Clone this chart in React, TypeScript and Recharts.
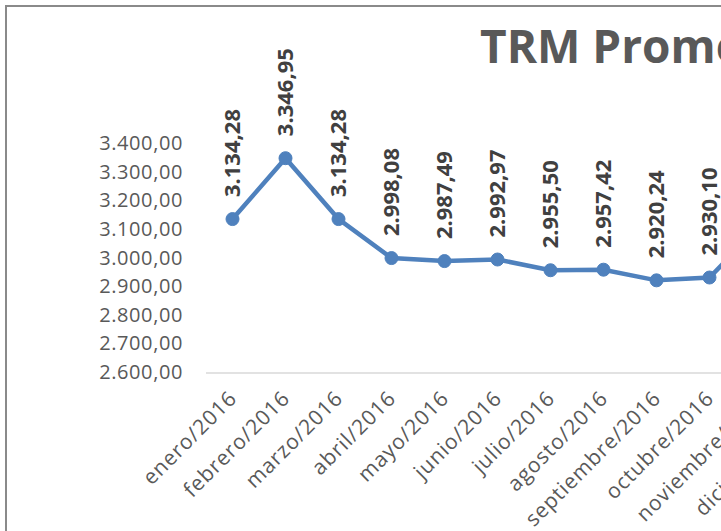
import React from "react";
import { LineChart, Line, XAxis, YAxis, LabelList } from "recharts";

const months = [
  "enero/2016", "febrero/2016", "marzo/2016", "abril/2016", "mayo/2016", "junio/2016",
  "julio/2016", "agosto/2016", "septiembre/2016", "octubre/2016", "noviembre/2016", "diciembre/2016",
];
const trmValues = [
  3134.28, 3346.95, 3134.28, 2998.08, 2987.49, 2992.97,
  2955.5, 2957.42, 2920.24, 2930.1, 3118.4, 3009.73,
];
const yTicks = [2600, 2700, 2800, 2900, 3000, 3100, 3200, 3300, 3400];
const title = "TRM Promedio 2016";

const boundaryTicks = months.map((_, i) => i).concat([months.length]);
const centerTicks = months.map((_, i) => i + 0.5);
const data = months.map((m, i) => ({ pos: i + 0.5, month: m, trm: trmValues[i] }));

const fmt = (n: number) => {
  const [ip, dp] = n.toFixed(2).split(".");
  return ip.replace(/\B(?=(\d{3})+(?!\d))/g, ".") + "," + dp;
};

const BLUE = "#4F81BD";
const FONT = "'Open Sans', sans-serif";

const renderLabel = (props: any) => {
  const { x, y, value } = props;
  if (x == null || y == null) return null;
  const ly = y - 22;
  return (
    <text
      x={x}
      y={ly}
      dy="0.36em"
      transform={`rotate(-90, ${x}, ${ly})`}
      textAnchor="start"
      fontFamily={FONT}
      fontWeight={700}
      fontSize={22}
      fill="#404040"
    >
      {fmt(Number(value))}
    </text>
  );
};

export default function App() {
  return (
    <div
      style={{
        position: "fixed",
        left: 0,
        top: 0,
        width: 721,
        height: 531,
        overflow: "hidden",
        background: "#ffffff",
      }}
    >
      <div
        style={{
          position: "absolute",
          left: 5,
          top: 5,
          width: 1000,
          height: 1000,
          borderLeft: "2px solid #8a8a8a",
          borderTop: "2px solid #8a8a8a",
          boxSizing: "border-box",
        }}
      />
      <svg
        style={{ position: "absolute", left: 0, top: 0 }}
        width={900}
        height={120}
      >
        <text
          x={480}
          y={63}
          fontFamily={FONT}
          fontWeight={700}
          fontSize={46}
          fill="#595959"
        >
          {title}
        </text>
      </svg>
      <div style={{ position: "absolute", left: 0, top: 0 }}>
        <LineChart
          width={880}
          height={560}
          data={data}
          margin={{ top: 143, right: 38, bottom: 38, left: 0 }}
        >
          <XAxis
            xAxisId="main"
            type="number"
            dataKey="pos"
            domain={[0, months.length]}
            allowDataOverflow
            ticks={boundaryTicks}
            interval={0}
            tick={false}
            tickSize={7}
            tickLine={{ stroke: "#d9d9d9", strokeWidth: 1.5 }}
            axisLine={{ stroke: "#d9d9d9", strokeWidth: 1.5 }}
            height={149}
          />
          <XAxis
            xAxisId="lbl"
            type="number"
            dataKey="pos"
            domain={[0, months.length]}
            allowDataOverflow
            ticks={centerTicks}
            interval={0}
            tickFormatter={(v: number) => months[Math.floor(v)] ?? ""}
            axisLine={false}
            tickLine={false}
            tickSize={0}
            tickMargin={17}
            angle={-45}
            textAnchor="end"
            height={1}
            tick={{ fill: "#595959", fontSize: 21, fontFamily: FONT, letterSpacing: 0.9, dx: -5 }}
          />
          <YAxis
            type="number"
            domain={[2600, 3400]}
            ticks={yTicks}
            interval={0}
            allowDataOverflow
            tickFormatter={fmt}
            axisLine={false}
            tickLine={false}
            tickSize={0}
            tickMargin={23}
            width={206}
            tick={{ fill: "#595959", fontSize: 20, fontFamily: FONT, letterSpacing: 0.6 }}
          />
          <Line
            xAxisId="main"
            dataKey="trm"
            type="linear"
            stroke={BLUE}
            strokeWidth={4.5}
            dot={{ r: 6.5, fill: BLUE, stroke: BLUE, strokeWidth: 1 }}
            activeDot={false}
            isAnimationActive={false}
          >
            <LabelList dataKey="trm" content={renderLabel} />
          </Line>
        </LineChart>
      </div>
    </div>
  );
}
